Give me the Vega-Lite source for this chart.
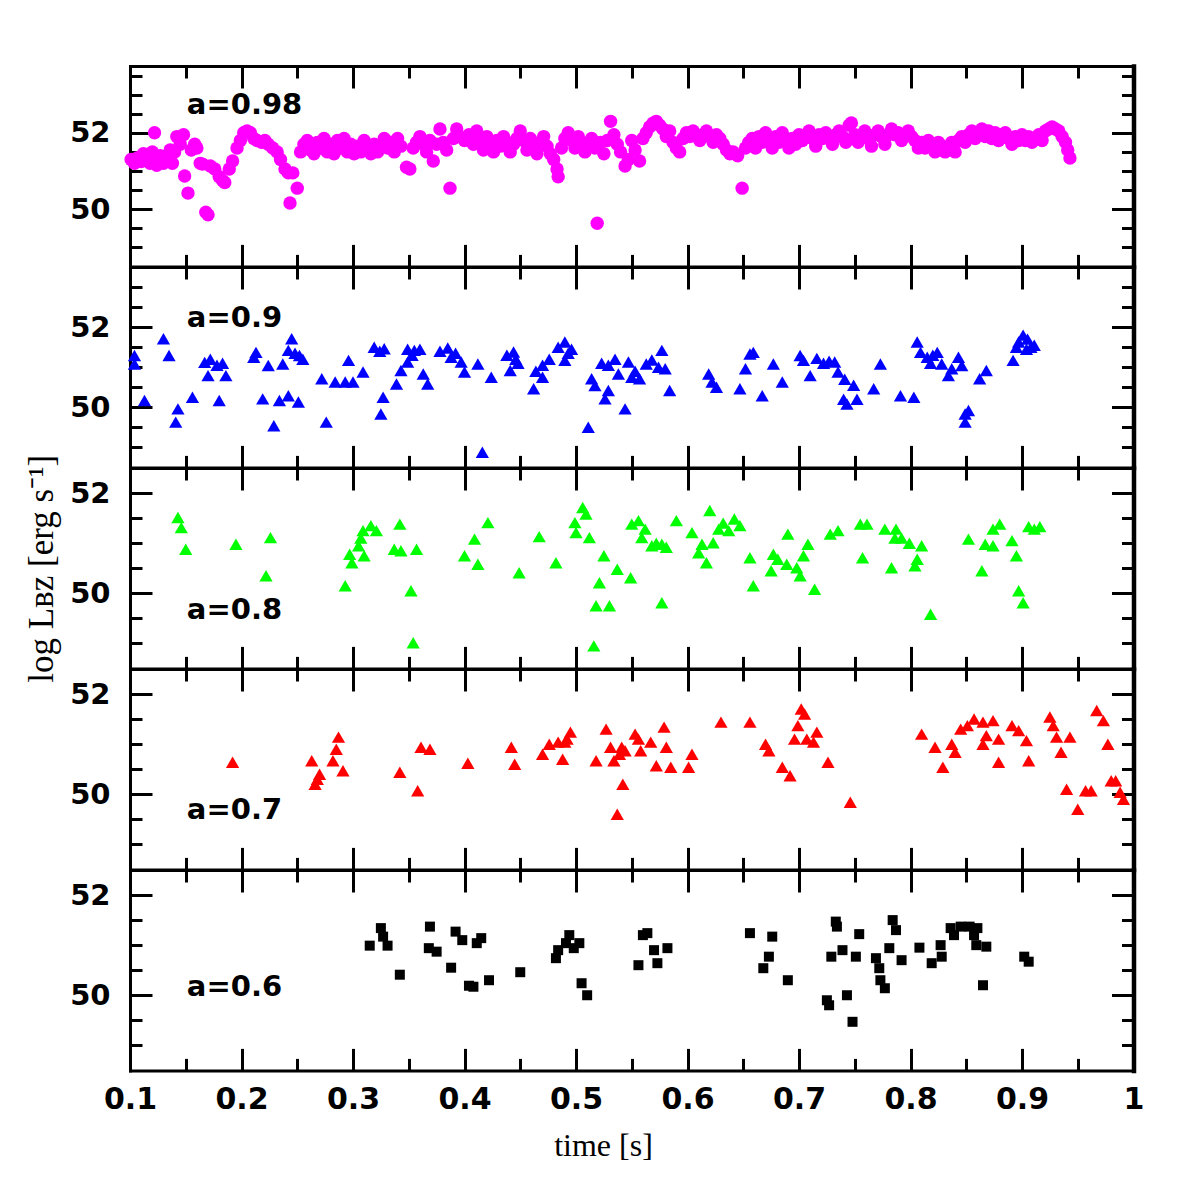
{
  "$schema": "https://vega.github.io/schema/vega-lite/v6.json",
  "autosize": {"type": "none"},
  "padding": {"left": 130, "top": 66, "right": 1066, "bottom": 1130},
  "background": "white",
  "spacing": 0,
  "bounds": "flush",
  "config": {
    "view": {"stroke": null},
    "axis": {
      "grid": false,
      "tickColor": "black",
      "domainColor": "black",
      "labelColor": "black",
      "titleColor": "black",
      "labelFont": "DejaVu Sans",
      "labelFontWeight": "bold",
      "labelFontSize": 29,
      "labelFlush": false,
      "labelOverlap": false,
      "tickWidth": 3,
      "domainWidth": 3,
      "domainCap": "square",
      "titleFont": "Liberation Serif",
      "titleFontWeight": "normal",
      "titleFontSize": 32
    },
    "text": {"font": "DejaVu Sans", "fontWeight": "bold", "fontSize": 29, "color": "black", "align": "left", "baseline": "middle"}
  },
  "datasets": {
    "spin098": [
      {"t":0.101,"v":51.3},{"t":0.104,"v":51.2},{"t":0.107,"v":51.35},{"t":0.110,"v":51.25},{"t":0.112,"v":51.45},{"t":0.115,"v":51.3},{"t":0.118,"v":51.2},{"t":0.120,"v":51.5},{"t":0.122,"v":52.0},{"t":0.124,"v":51.15},{"t":0.127,"v":51.4},{"t":0.130,"v":51.2},{"t":0.133,"v":51.35},{"t":0.136,"v":51.55},{"t":0.138,"v":51.2},{"t":0.140,"v":51.5},{"t":0.142,"v":51.9},{"t":0.145,"v":51.7},{"t":0.148,"v":51.95},{"t":0.149,"v":50.87},{"t":0.152,"v":50.42},{"t":0.155,"v":51.55},{"t":0.158,"v":51.7},{"t":0.160,"v":51.6},{"t":0.163,"v":51.2},{"t":0.165,"v":51.18},{"t":0.168,"v":49.92},{"t":0.170,"v":49.85},{"t":0.172,"v":51.13},{"t":0.176,"v":51.05},{"t":0.180,"v":50.85},{"t":0.183,"v":50.75},{"t":0.185,"v":50.7},{"t":0.189,"v":51.05},{"t":0.192,"v":51.26},{"t":0.196,"v":51.6},{"t":0.199,"v":51.8},{"t":0.202,"v":52.0},{"t":0.205,"v":52.05},{"t":0.208,"v":52.0},{"t":0.211,"v":51.85},{"t":0.214,"v":51.8},{"t":0.218,"v":51.75},{"t":0.221,"v":51.8},{"t":0.224,"v":51.7},{"t":0.228,"v":51.6},{"t":0.232,"v":51.5},{"t":0.235,"v":51.3},{"t":0.239,"v":51.05},{"t":0.242,"v":50.95},{"t":0.2435,"v":50.16},{"t":0.246,"v":50.95},{"t":0.250,"v":50.55},{"t":0.253,"v":51.5},{"t":0.256,"v":51.7},
      {"t":0.259,"v":51.8},{"t":0.262,"v":51.55},{"t":0.265,"v":51.45},{"t":0.268,"v":51.75},{"t":0.271,"v":51.6},{"t":0.274,"v":51.85},{"t":0.277,"v":51.5},{"t":0.280,"v":51.7},{"t":0.283,"v":51.45},{"t":0.286,"v":51.8},{"t":0.289,"v":51.6},{"t":0.292,"v":51.85},{"t":0.295,"v":51.5},{"t":0.298,"v":51.7},{"t":0.301,"v":51.45},{"t":0.304,"v":51.65},{"t":0.307,"v":51.5},{"t":0.310,"v":51.8},{"t":0.313,"v":51.6},{"t":0.316,"v":51.45},{"t":0.319,"v":51.7},{"t":0.322,"v":51.5},{"t":0.325,"v":51.65},{"t":0.328,"v":51.85},{"t":0.331,"v":51.6},{"t":0.334,"v":51.75},{"t":0.337,"v":51.5},{"t":0.340,"v":51.85},{"t":0.343,"v":51.65},{"t":0.348,"v":51.1},{"t":0.351,"v":51.05},{"t":0.354,"v":51.6},{"t":0.357,"v":51.75},{"t":0.360,"v":51.9},{"t":0.363,"v":51.7},{"t":0.366,"v":51.5},{"t":0.369,"v":51.8},{"t":0.372,"v":51.26},{"t":0.375,"v":51.7},{"t":0.378,"v":52.1},{"t":0.381,"v":51.75},{"t":0.384,"v":51.55},{"t":0.387,"v":50.55},{"t":0.390,"v":51.85},{"t":0.393,"v":52.1},{"t":0.396,"v":51.9},
      {"t":0.400,"v":51.8},{"t":0.404,"v":51.95},{"t":0.408,"v":51.7},{"t":0.411,"v":52.05},{"t":0.414,"v":51.8},{"t":0.417,"v":51.55},{"t":0.420,"v":51.9},{"t":0.423,"v":51.75},{"t":0.426,"v":51.5},{"t":0.429,"v":51.8},{"t":0.432,"v":51.65},{"t":0.435,"v":51.9},{"t":0.438,"v":51.75},{"t":0.441,"v":51.5},{"t":0.444,"v":51.7},{"t":0.447,"v":51.85},{"t":0.450,"v":52.05},{"t":0.453,"v":51.8},{"t":0.456,"v":51.55},{"t":0.459,"v":51.85},{"t":0.462,"v":51.7},{"t":0.465,"v":51.45},{"t":0.468,"v":51.75},{"t":0.471,"v":51.9},{"t":0.474,"v":51.65},{"t":0.477,"v":51.45},{"t":0.480,"v":51.3},{"t":0.483,"v":51.05},{"t":0.484,"v":50.85},{"t":0.487,"v":51.6},{"t":0.490,"v":51.85},{"t":0.493,"v":52.0},{"t":0.496,"v":51.8},{"t":0.499,"v":51.6},{"t":0.502,"v":51.9},{"t":0.505,"v":51.75},{"t":0.508,"v":51.5},{"t":0.511,"v":51.7},{"t":0.514,"v":51.85},{"t":0.517,"v":51.6},{"t":0.519,"v":49.63},{"t":0.522,"v":51.75},{"t":0.525,"v":51.45},{"t":0.528,"v":51.8},{"t":0.531,"v":52.3},{"t":0.534,"v":51.95},{"t":0.537,"v":51.7},{"t":0.540,"v":51.5},{"t":0.544,"v":51.13},{"t":0.547,"v":51.3},{"t":0.550,"v":51.8},{"t":0.553,"v":51.55},{"t":0.557,"v":51.26},
      {"t":0.560,"v":51.85},{"t":0.563,"v":52.0},{"t":0.566,"v":52.15},{"t":0.569,"v":52.25},{"t":0.572,"v":52.3},{"t":0.575,"v":52.2},{"t":0.578,"v":52.1},{"t":0.581,"v":51.9},{"t":0.584,"v":52.05},{"t":0.587,"v":51.75},{"t":0.590,"v":51.6},{"t":0.593,"v":51.5},{"t":0.596,"v":51.85},{"t":0.599,"v":52.0},{"t":0.602,"v":51.9},{"t":0.605,"v":52.05},{"t":0.608,"v":51.95},{"t":0.611,"v":51.8},{"t":0.614,"v":51.95},{"t":0.617,"v":52.05},{"t":0.620,"v":51.9},{"t":0.623,"v":51.75},{"t":0.626,"v":51.95},{"t":0.629,"v":51.85},{"t":0.632,"v":51.7},{"t":0.635,"v":51.55},{"t":0.638,"v":51.45},{"t":0.641,"v":51.5},{"t":0.645,"v":51.4},{"t":0.649,"v":50.55},{"t":0.652,"v":51.6},{"t":0.655,"v":51.75},{"t":0.658,"v":51.85},{"t":0.661,"v":51.6},{"t":0.664,"v":51.9},{"t":0.667,"v":51.75},{"t":0.670,"v":52.0},{"t":0.673,"v":51.8},{"t":0.676,"v":51.6},{"t":0.679,"v":51.9},{"t":0.682,"v":51.75},{"t":0.685,"v":52.0},{"t":0.688,"v":51.8},{"t":0.691,"v":51.6},{"t":0.694,"v":51.85},{"t":0.697,"v":51.7},{"t":0.700,"v":51.95},
      {"t":0.703,"v":51.8},{"t":0.706,"v":51.95},{"t":0.709,"v":52.05},{"t":0.712,"v":51.85},{"t":0.715,"v":51.65},{"t":0.718,"v":51.95},{"t":0.721,"v":51.85},{"t":0.724,"v":52.0},{"t":0.727,"v":51.9},{"t":0.730,"v":51.7},{"t":0.733,"v":51.95},{"t":0.736,"v":52.05},{"t":0.739,"v":51.9},{"t":0.742,"v":51.75},{"t":0.745,"v":52.2},{"t":0.747,"v":52.26},{"t":0.750,"v":51.95},{"t":0.753,"v":51.75},{"t":0.756,"v":51.95},{"t":0.759,"v":52.05},{"t":0.762,"v":51.85},{"t":0.765,"v":51.65},{"t":0.768,"v":51.95},{"t":0.771,"v":52.05},{"t":0.774,"v":51.9},{"t":0.777,"v":51.7},{"t":0.780,"v":51.95},{"t":0.783,"v":52.1},{"t":0.786,"v":51.95},{"t":0.789,"v":52.0},{"t":0.792,"v":51.8},{"t":0.795,"v":51.95},{"t":0.798,"v":52.05},{"t":0.801,"v":51.9},{"t":0.804,"v":51.8},{"t":0.807,"v":51.6},{"t":0.810,"v":51.75},{"t":0.813,"v":51.6},{"t":0.816,"v":51.8},{"t":0.819,"v":51.7},{"t":0.822,"v":51.5},{"t":0.825,"v":51.75},{"t":0.828,"v":51.65},{"t":0.831,"v":51.5},{"t":0.834,"v":51.6},{"t":0.837,"v":51.75},{"t":0.840,"v":51.5},{"t":0.843,"v":51.8},{"t":0.846,"v":51.9},{"t":0.849,"v":51.75},
      {"t":0.852,"v":51.95},{"t":0.855,"v":52.05},{"t":0.858,"v":51.85},{"t":0.861,"v":52.0},{"t":0.864,"v":52.1},{"t":0.867,"v":51.9},{"t":0.870,"v":52.05},{"t":0.873,"v":51.85},{"t":0.876,"v":52.0},{"t":0.879,"v":51.8},{"t":0.882,"v":51.95},{"t":0.885,"v":52.0},{"t":0.888,"v":51.85},{"t":0.891,"v":51.7},{"t":0.894,"v":51.9},{"t":0.897,"v":51.8},{"t":0.900,"v":51.95},{"t":0.903,"v":51.8},{"t":0.906,"v":51.9},{"t":0.909,"v":51.75},{"t":0.912,"v":51.85},{"t":0.915,"v":51.95},{"t":0.918,"v":51.8},{"t":0.921,"v":52.05},{"t":0.924,"v":52.1},{"t":0.927,"v":52.15},{"t":0.930,"v":52.1},{"t":0.933,"v":52.05},{"t":0.936,"v":51.9},{"t":0.939,"v":51.75},{"t":0.941,"v":51.55},{"t":0.943,"v":51.34}
    ],
    "spin09": [
      {"t":0.104,"v":51.29},{"t":0.104,"v":51.08},{"t":0.113,"v":50.17},{"t":0.130,"v":51.71},{"t":0.135,"v":51.29},{"t":0.143,"v":49.96},{"t":0.141,"v":49.63},{"t":0.156,"v":50.25},{"t":0.167,"v":51.12},{"t":0.172,"v":51.2},{"t":0.178,"v":51.05},{"t":0.183,"v":51.1},{"t":0.170,"v":50.79},{"t":0.186,"v":50.79},{"t":0.180,"v":50.17},{"t":0.213,"v":51.37},{"t":0.211,"v":51.25},{"t":0.219,"v":50.21},{"t":0.224,"v":51.04},{"t":0.229,"v":49.54},{"t":0.234,"v":50.17},{"t":0.242,"v":50.29},{"t":0.237,"v":51.08},{"t":0.245,"v":51.71},{"t":0.242,"v":51.42},{"t":0.252,"v":51.29},{"t":0.248,"v":51.35},{"t":0.255,"v":51.2},{"t":0.251,"v":50.13},{"t":0.272,"v":50.71},{"t":0.276,"v":49.63},{"t":0.284,"v":50.63},{"t":0.293,"v":50.63},{"t":0.300,"v":50.63},{"t":0.296,"v":51.17},{"t":0.309,"v":50.88},{"t":0.319,"v":51.5},{"t":0.328,"v":51.46},{"t":0.324,"v":51.4},{"t":0.327,"v":50.25},{"t":0.325,"v":49.83},{"t":0.339,"v":50.58},{"t":0.343,"v":50.92},{"t":0.349,"v":51.45},{"t":0.355,"v":51.42},{"t":0.360,"v":51.45},{"t":0.349,"v":51.13},{"t":0.353,"v":51.3},{"t":0.363,"v":50.83},{"t":0.367,"v":50.58},{"t":0.378,"v":51.4},{"t":0.385,"v":51.48},{"t":0.392,"v":51.35},{"t":0.388,"v":51.25},{"t":0.397,"v":51.13},{"t":0.400,"v":50.88},{"t":0.412,"v":51.08},{"t":0.416,"v":48.88},{"t":0.424,"v":50.75},{"t":0.438,"v":51.3},{"t":0.444,"v":51.38},{"t":0.448,"v":51.1},{"t":0.441,"v":50.92},{"t":0.446,"v":51.2},{"t":0.462,"v":50.46},{"t":0.464,"v":50.9},{"t":0.470,"v":51.05},{"t":0.476,"v":51.2},{"t":0.470,"v":50.75},{"t":0.484,"v":51.5},{"t":0.490,"v":51.63},{"t":0.496,"v":51.45},{"t":0.490,"v":51.17},{"t":0.493,"v":51.35},{"t":0.511,"v":49.5},{"t":0.514,"v":50.71},{"t":0.517,"v":50.54},{"t":0.523,"v":51.1},{"t":0.529,"v":51.05},{"t":0.535,"v":51.2},{"t":0.529,"v":50.42},{"t":0.526,"v":50.21},{"t":0.538,"v":50.83},{"t":0.544,"v":49.96},{"t":0.547,"v":51.13},{"t":0.550,"v":50.75},
      {"t":0.553,"v":50.9},{"t":0.557,"v":50.71},{"t":0.563,"v":51.08},{"t":0.568,"v":51.18},{"t":0.574,"v":51.0},{"t":0.577,"v":51.42},{"t":0.580,"v":50.96},{"t":0.584,"v":50.42},{"t":0.619,"v":50.83},{"t":0.622,"v":50.63},{"t":0.626,"v":50.5},{"t":0.647,"v":50.46},{"t":0.652,"v":50.96},{"t":0.656,"v":51.33},{"t":0.659,"v":51.37},{"t":0.667,"v":50.29},{"t":0.677,"v":51.08},{"t":0.685,"v":50.63},{"t":0.701,"v":51.29},{"t":0.704,"v":51.17},{"t":0.710,"v":50.79},{"t":0.716,"v":51.22},{"t":0.722,"v":51.1},{"t":0.727,"v":51.15},{"t":0.732,"v":51.13},{"t":0.735,"v":50.88},{"t":0.741,"v":50.7},{"t":0.749,"v":50.55},{"t":0.740,"v":50.2},{"t":0.743,"v":50.08},{"t":0.752,"v":50.2},{"t":0.767,"v":50.46},{"t":0.773,"v":51.08},{"t":0.791,"v":50.29},{"t":0.803,"v":50.25},{"t":0.806,"v":51.63},{"t":0.809,"v":51.37},{"t":0.815,"v":51.25},{"t":0.820,"v":51.3},{"t":0.824,"v":51.37},{"t":0.818,"v":51.1},{"t":0.828,"v":51.08},{"t":0.834,"v":50.79},{"t":0.837,"v":50.96},{"t":0.843,"v":51.25},{"t":0.846,"v":51.04},{"t":0.849,"v":49.83},{"t":0.852,"v":49.92},{"t":0.849,"v":49.63},{"t":0.862,"v":50.71},{"t":0.868,"v":50.92},{"t":0.892,"v":51.17},{"t":0.895,"v":51.5},{"t":0.897,"v":51.63},{"t":0.901,"v":51.8},{"t":0.905,"v":51.7},{"t":0.908,"v":51.5},{"t":0.904,"v":51.45},{"t":0.911,"v":51.55}
    ],
    "spin08": [
      {"t":0.143,"v":51.51},{"t":0.146,"v":51.31},{"t":0.150,"v":50.88},{"t":0.195,"v":50.98},{"t":0.226,"v":51.11},{"t":0.222,"v":50.35},{"t":0.293,"v":50.15},{"t":0.297,"v":50.78},{"t":0.299,"v":50.61},{"t":0.305,"v":50.95},{"t":0.307,"v":51.1},{"t":0.309,"v":51.25},{"t":0.310,"v":50.75},{"t":0.316,"v":51.35},{"t":0.321,"v":51.25},{"t":0.337,"v":50.88},{"t":0.343,"v":50.85},{"t":0.342,"v":51.38},{"t":0.352,"v":50.05},{"t":0.357,"v":50.88},{"t":0.354,"v":49.01},{"t":0.400,"v":50.75},{"t":0.409,"v":51.08},{"t":0.412,"v":50.58},{"t":0.421,"v":51.41},{"t":0.449,"v":50.41},{"t":0.467,"v":51.13},{"t":0.482,"v":50.61},{"t":0.499,"v":51.41},{"t":0.500,"v":51.21},{"t":0.506,"v":51.71},{"t":0.509,"v":51.58},{"t":0.512,"v":51.11},{"t":0.521,"v":50.21},{"t":0.525,"v":50.75},{"t":0.518,"v":49.75},{"t":0.530,"v":49.75},{"t":0.516,"v":48.95},{"t":0.537,"v":50.48},{"t":0.549,"v":50.31},{"t":0.550,"v":51.38},
      {"t":0.556,"v":51.45},{"t":0.562,"v":51.28},{"t":0.559,"v":51.11},{"t":0.568,"v":50.95},{"t":0.572,"v":51.0},{"t":0.577,"v":50.98},{"t":0.581,"v":50.92},{"t":0.577,"v":49.81},{"t":0.590,"v":51.45},{"t":0.604,"v":51.21},{"t":0.620,"v":51.65},{"t":0.613,"v":50.98},{"t":0.610,"v":50.81},{"t":0.617,"v":50.61},{"t":0.623,"v":51.01},{"t":0.628,"v":51.28},{"t":0.632,"v":51.4},{"t":0.637,"v":51.25},{"t":0.642,"v":51.48},{"t":0.647,"v":51.35},{"t":0.656,"v":50.71},{"t":0.659,"v":50.15},{"t":0.677,"v":50.78},{"t":0.681,"v":50.68},{"t":0.689,"v":50.58},{"t":0.675,"v":50.45},{"t":0.690,"v":51.18},{"t":0.698,"v":50.51},{"t":0.701,"v":50.35},{"t":0.704,"v":50.75},{"t":0.708,"v":50.98},{"t":0.714,"v":50.08},{"t":0.728,"v":51.18},{"t":0.735,"v":51.25},{"t":0.755,"v":51.38},{"t":0.761,"v":51.38},{"t":0.757,"v":50.71},{"t":0.777,"v":51.28},{"t":0.783,"v":50.51},{"t":0.787,"v":51.28},{"t":0.786,"v":51.1},{"t":0.792,"v":51.1},{"t":0.799,"v":51.0},{"t":0.810,"v":50.95},{"t":0.806,"v":50.68},{"t":0.804,"v":50.55},{"t":0.818,"v":49.58},{"t":0.852,"v":51.08},{"t":0.864,"v":50.45},{"t":0.867,"v":50.98},{"t":0.874,"v":50.95},{"t":0.874,"v":51.28},{"t":0.880,"v":51.38},{"t":0.891,"v":51.05},{"t":0.895,"v":50.75},{"t":0.897,"v":50.05},{"t":0.901,"v":49.81},{"t":0.906,"v":51.33},{"t":0.911,"v":51.28},{"t":0.916,"v":51.33}
    ],
    "spin07": [
      {"t":0.192,"v":50.64},{"t":0.263,"v":50.67},{"t":0.266,"v":50.2},{"t":0.268,"v":50.3},{"t":0.270,"v":50.4},{"t":0.282,"v":50.67},{"t":0.285,"v":50.9},{"t":0.287,"v":51.14},{"t":0.291,"v":50.47},{"t":0.342,"v":50.44},{"t":0.358,"v":50.07},{"t":0.361,"v":50.94},{"t":0.369,"v":50.9},{"t":0.403,"v":50.62},{"t":0.442,"v":50.94},{"t":0.445,"v":50.6},{"t":0.470,"v":50.8},{"t":0.476,"v":51.0},{"t":0.484,"v":51.04},{"t":0.490,"v":51.04},{"t":0.495,"v":51.24},{"t":0.492,"v":51.1},{"t":0.488,"v":50.7},{"t":0.518,"v":50.67},{"t":0.527,"v":51.3},{"t":0.531,"v":50.94},{"t":0.539,"v":50.8},{"t":0.544,"v":50.87},{"t":0.541,"v":50.94},{"t":0.534,"v":50.67},{"t":0.542,"v":50.2},{"t":0.537,"v":49.6},{"t":0.553,"v":51.2},{"t":0.556,"v":51.1},{"t":0.558,"v":50.87},{"t":0.567,"v":51.04},{"t":0.572,"v":50.57},{"t":0.579,"v":51.34},{"t":0.581,"v":50.94},{"t":0.585,"v":50.54},{"t":0.601,"v":50.54},{"t":0.604,"v":50.8},{"t":0.630,"v":51.44},{"t":0.656,"v":51.44},{"t":0.670,"v":51.0},{"t":0.673,"v":50.87},{"t":0.685,"v":50.54},{"t":0.692,"v":50.37},{"t":0.696,"v":51.1},{"t":0.699,"v":51.37},{"t":0.702,"v":51.7},{"t":0.705,"v":51.6},{"t":0.707,"v":51.1},{"t":0.713,"v":51.04},{"t":0.716,"v":51.24},{"t":0.726,"v":50.64},{"t":0.746,"v":49.84},{"t":0.810,"v":51.2},{"t":0.822,"v":50.94},{"t":0.829,"v":50.54},{"t":0.837,"v":51.0},{"t":0.840,"v":50.84},{"t":0.845,"v":51.3},{"t":0.851,"v":51.37},{"t":0.857,"v":51.5},{"t":0.865,"v":51.44},{"t":0.874,"v":51.47},{"t":0.865,"v":51.0},{"t":0.868,"v":51.17},{"t":0.879,"v":51.1},{"t":0.879,"v":50.64},{"t":0.891,"v":51.37},{"t":0.897,"v":51.27},{"t":0.904,"v":51.07},{"t":0.906,"v":50.67},{"t":0.925,"v":51.54},{"t":0.928,"v":51.37},{"t":0.931,"v":51.14},{"t":0.943,"v":51.14},{"t":0.935,"v":50.84},{"t":0.940,"v":50.1},{"t":0.950,"v":49.7},{"t":0.957,"v":50.07},{"t":0.962,"v":50.07},{"t":0.967,"v":51.67},{"t":0.973,"v":51.47},{"t":0.977,"v":51.0},{"t":0.980,"v":50.27},{"t":0.984,"v":50.27},{"t":0.988,"v":50.04},{"t":0.991,"v":49.9}
    ],
    "spin06": [
      {"t":0.315,"v":50.99},{"t":0.325,"v":51.34},{"t":0.327,"v":51.17},{"t":0.331,"v":50.99},{"t":0.342,"v":50.41},{"t":0.369,"v":51.37},{"t":0.368,"v":50.94},{"t":0.375,"v":50.87},{"t":0.388,"v":50.55},{"t":0.392,"v":51.27},{"t":0.398,"v":51.1},{"t":0.411,"v":51.04},{"t":0.415,"v":51.14},{"t":0.404,"v":50.19},{"t":0.408,"v":50.17},{"t":0.422,"v":50.3},{"t":0.450,"v":50.46},{"t":0.482,"v":50.74},{"t":0.484,"v":50.9},{"t":0.491,"v":51.04},{"t":0.494,"v":51.2},{"t":0.498,"v":50.94},{"t":0.503,"v":51.04},{"t":0.505,"v":50.24},{"t":0.510,"v":50.0},{"t":0.556,"v":50.6},{"t":0.560,"v":51.2},{"t":0.564,"v":51.24},{"t":0.570,"v":50.9},{"t":0.573,"v":50.64},{"t":0.582,"v":50.94},{"t":0.656,"v":51.24},{"t":0.676,"v":51.17},{"t":0.673,"v":50.77},{"t":0.668,"v":50.54},{"t":0.690,"v":50.3},{"t":0.725,"v":49.9},{"t":0.727,"v":49.8},{"t":0.733,"v":51.47},{"t":0.734,"v":51.37},{"t":0.739,"v":50.9},{"t":0.743,"v":50.0},{"t":0.729,"v":50.77},{"t":0.748,"v":49.47},{"t":0.754,"v":51.22},{"t":0.751,"v":50.77},{"t":0.769,"v":50.74},{"t":0.772,"v":50.54},{"t":0.773,"v":50.3},{"t":0.777,"v":50.14},{"t":0.781,"v":50.94},{"t":0.784,"v":51.5},{"t":0.787,"v":51.3},{"t":0.792,"v":50.7},{"t":0.808,"v":50.95},{"t":0.819,"v":50.64},{"t":0.828,"v":50.77},{"t":0.827,"v":51.0},{"t":0.836,"v":51.34},{"t":0.845,"v":51.37},{"t":0.853,"v":51.37},{"t":0.860,"v":51.34},{"t":0.839,"v":51.2},{"t":0.857,"v":51.2},{"t":0.859,"v":51.0},{"t":0.868,"v":50.97},{"t":0.865,"v":50.2},{"t":0.902,"v":50.77},{"t":0.906,"v":50.67}
    ]
  },
  "vconcat": [
    {
      "width": 1003.5, "height": 200.4,
      "layer": [
        {
          "data": {"name": "spin098"},
          "mark": {"type": "point", "shape": "circle", "filled": true, "size": 180, "color": "#ff00ff", "opacity": 1, "strokeWidth": 0},
          "encoding": {
            "x": {"field": "t", "type": "quantitative", "scale": {"domain": [0.1, 1], "nice": false, "zero": false},
              "axis": {"orient": "bottom", "values": [0.1,0.15,0.2,0.25,0.3,0.35,0.4,0.45,0.5,0.55,0.6,0.65,0.7,0.75,0.8,0.85,0.9,0.95,1.0], "labels": false, "title": null,
                "tickSize": {"condition": {"test": "abs(datum.value*10-round(datum.value*10))<0.001", "value": -22}, "value": -12}}},
            "y": {"field": "v", "type": "quantitative", "scale": {"domain": [48.5, 53.75], "nice": false, "zero": false},
              "axis": {"orient": "left", "values": [49,49.5,50,50.5,51,51.5,52,52.5,53,53.5], "title": null, "labelPadding": 42, "format": "~g",
                "labelExpr": "datum.value==50||datum.value==52 ? datum.label : ''",
                "tickSize": {"condition": {"test": "abs(datum.value/2-round(datum.value/2))<0.001", "value": -22}, "value": -12}}}
          }
        },
        {
          "data": {"values": [{"t": 0.151, "v": 52.74, "label": "a=0.98"}]},
          "mark": {"type": "text"},
          "encoding": {
            "x": {"field": "t", "type": "quantitative", "scale": {"domain": [0.1, 1], "nice": false, "zero": false},
              "axis": {"orient": "top", "values": [0.1,0.15,0.2,0.25,0.3,0.35,0.4,0.45,0.5,0.55,0.6,0.65,0.7,0.75,0.8,0.85,0.9,0.95,1.0], "labels": false, "title": null,
                "tickSize": {"condition": {"test": "abs(datum.value*10-round(datum.value*10))<0.001", "value": -22}, "value": -12}}},
            "y": {"field": "v", "type": "quantitative", "scale": {"domain": [48.5, 53.75], "nice": false, "zero": false},
              "axis": {"orient": "right", "values": [49,49.5,50,50.5,51,51.5,52,52.5,53,53.5], "labels": false, "title": null, "domainWidth": 4.5,
                "tickSize": {"condition": {"test": "abs(datum.value/2-round(datum.value/2))<0.001", "value": -22}, "value": -12}}},
            "text": {"field": "label"}
          }
        }
      ],
      "resolve": {"axis": {"x": "independent", "y": "independent"}}
    },
    {
      "width": 1003.5, "height": 200.4,
      "layer": [
        {
          "data": {"name": "spin09"},
          "mark": {"type": "point", "shape": "triangle-up", "filled": true, "size": 175, "color": "#0000ff", "opacity": 1, "strokeWidth": 0},
          "encoding": {
            "x": {"field": "t", "type": "quantitative", "scale": {"domain": [0.1, 1], "nice": false, "zero": false},
              "axis": {"orient": "bottom", "values": [0.1,0.15,0.2,0.25,0.3,0.35,0.4,0.45,0.5,0.55,0.6,0.65,0.7,0.75,0.8,0.85,0.9,0.95,1.0], "labels": false, "title": null,
                "tickSize": {"condition": {"test": "abs(datum.value*10-round(datum.value*10))<0.001", "value": -22}, "value": -12}}},
            "y": {"field": "v", "type": "quantitative", "scale": {"domain": [48.5, 53.5], "nice": false, "zero": false},
              "axis": {"orient": "left", "values": [49,49.5,50,50.5,51,51.5,52,52.5,53], "title": null, "labelPadding": 42, "format": "~g",
                "labelExpr": "datum.value==50||datum.value==52 ? datum.label : ''",
                "tickSize": {"condition": {"test": "abs(datum.value/2-round(datum.value/2))<0.001", "value": -22}, "value": -12}}}
          }
        },
        {
          "data": {"values": [{"t": 0.151, "v": 52.22, "label": "a=0.9"}]},
          "mark": {"type": "text"},
          "encoding": {
            "x": {"field": "t", "type": "quantitative", "scale": {"domain": [0.1, 1], "nice": false, "zero": false},
              "axis": {"orient": "top", "values": [0.1,0.15,0.2,0.25,0.3,0.35,0.4,0.45,0.5,0.55,0.6,0.65,0.7,0.75,0.8,0.85,0.9,0.95,1.0], "labels": false, "title": null,
                "tickSize": {"condition": {"test": "abs(datum.value*10-round(datum.value*10))<0.001", "value": -22}, "value": -12}}},
            "y": {"field": "v", "type": "quantitative", "scale": {"domain": [48.5, 53.5], "nice": false, "zero": false},
              "axis": {"orient": "right", "values": [49,49.5,50,50.5,51,51.5,52,52.5,53], "labels": false, "title": null, "domainWidth": 4.5,
                "tickSize": {"condition": {"test": "abs(datum.value/2-round(datum.value/2))<0.001", "value": -22}, "value": -12}}},
            "text": {"field": "label"}
          }
        }
      ],
      "resolve": {"axis": {"x": "independent", "y": "independent"}}
    },
    {
      "width": 1003.5, "height": 200.4,
      "layer": [
        {
          "data": {"name": "spin08"},
          "mark": {"type": "point", "shape": "triangle-up", "filled": true, "size": 175, "color": "#00ff00", "opacity": 1, "strokeWidth": 0},
          "encoding": {
            "x": {"field": "t", "type": "quantitative", "scale": {"domain": [0.1, 1], "nice": false, "zero": false},
              "axis": {"orient": "bottom", "values": [0.1,0.15,0.2,0.25,0.3,0.35,0.4,0.45,0.5,0.55,0.6,0.65,0.7,0.75,0.8,0.85,0.9,0.95,1.0], "labels": false, "title": null,
                "tickSize": {"condition": {"test": "abs(datum.value*10-round(datum.value*10))<0.001", "value": -22}, "value": -12}}},
            "y": {"field": "v", "type": "quantitative", "scale": {"domain": [48.5, 52.5], "nice": false, "zero": false},
              "axis": {"orient": "left", "values": [49,49.5,50,50.5,51,51.5,52], "title": "log Lʙᴢ [erg s⁻¹]", "titleFontSize": 35, "titlePadding": 10, "labelPadding": 42, "format": "~g",
                "labelExpr": "datum.value==50||datum.value==52 ? datum.label : ''",
                "tickSize": {"condition": {"test": "abs(datum.value/2-round(datum.value/2))<0.001", "value": -22}, "value": -12}}}
          }
        },
        {
          "data": {"values": [{"t": 0.151, "v": 49.66, "label": "a=0.8"}]},
          "mark": {"type": "text"},
          "encoding": {
            "x": {"field": "t", "type": "quantitative", "scale": {"domain": [0.1, 1], "nice": false, "zero": false},
              "axis": {"orient": "top", "values": [0.1,0.15,0.2,0.25,0.3,0.35,0.4,0.45,0.5,0.55,0.6,0.65,0.7,0.75,0.8,0.85,0.9,0.95,1.0], "labels": false, "title": null,
                "tickSize": {"condition": {"test": "abs(datum.value*10-round(datum.value*10))<0.001", "value": -22}, "value": -12}}},
            "y": {"field": "v", "type": "quantitative", "scale": {"domain": [48.5, 52.5], "nice": false, "zero": false},
              "axis": {"orient": "right", "values": [49,49.5,50,50.5,51,51.5,52], "labels": false, "title": null, "domainWidth": 4.5,
                "tickSize": {"condition": {"test": "abs(datum.value/2-round(datum.value/2))<0.001", "value": -22}, "value": -12}}},
            "text": {"field": "label"}
          }
        }
      ],
      "resolve": {"axis": {"x": "independent", "y": "independent"}}
    },
    {
      "width": 1003.5, "height": 200.4,
      "layer": [
        {
          "data": {"name": "spin07"},
          "mark": {"type": "point", "shape": "triangle-up", "filled": true, "size": 175, "color": "#ff0000", "opacity": 1, "strokeWidth": 0},
          "encoding": {
            "x": {"field": "t", "type": "quantitative", "scale": {"domain": [0.1, 1], "nice": false, "zero": false},
              "axis": {"orient": "bottom", "values": [0.1,0.15,0.2,0.25,0.3,0.35,0.4,0.45,0.5,0.55,0.6,0.65,0.7,0.75,0.8,0.85,0.9,0.95,1.0], "labels": false, "title": null,
                "tickSize": {"condition": {"test": "abs(datum.value*10-round(datum.value*10))<0.001", "value": -22}, "value": -12}}},
            "y": {"field": "v", "type": "quantitative", "scale": {"domain": [48.5, 52.5], "nice": false, "zero": false},
              "axis": {"orient": "left", "values": [49,49.5,50,50.5,51,51.5,52], "title": null, "labelPadding": 42, "format": "~g",
                "labelExpr": "datum.value==50||datum.value==52 ? datum.label : ''",
                "tickSize": {"condition": {"test": "abs(datum.value/2-round(datum.value/2))<0.001", "value": -22}, "value": -12}}}
          }
        },
        {
          "data": {"values": [{"t": 0.151, "v": 49.69, "label": "a=0.7"}]},
          "mark": {"type": "text"},
          "encoding": {
            "x": {"field": "t", "type": "quantitative", "scale": {"domain": [0.1, 1], "nice": false, "zero": false},
              "axis": {"orient": "top", "values": [0.1,0.15,0.2,0.25,0.3,0.35,0.4,0.45,0.5,0.55,0.6,0.65,0.7,0.75,0.8,0.85,0.9,0.95,1.0], "labels": false, "title": null,
                "tickSize": {"condition": {"test": "abs(datum.value*10-round(datum.value*10))<0.001", "value": -22}, "value": -12}}},
            "y": {"field": "v", "type": "quantitative", "scale": {"domain": [48.5, 52.5], "nice": false, "zero": false},
              "axis": {"orient": "right", "values": [49,49.5,50,50.5,51,51.5,52], "labels": false, "title": null, "domainWidth": 4.5,
                "tickSize": {"condition": {"test": "abs(datum.value/2-round(datum.value/2))<0.001", "value": -22}, "value": -12}}},
            "text": {"field": "label"}
          }
        }
      ],
      "resolve": {"axis": {"x": "independent", "y": "independent"}}
    },
    {
      "width": 1003.5, "height": 200.4,
      "layer": [
        {
          "data": {"name": "spin06"},
          "mark": {"type": "point", "shape": "square", "filled": true, "size": 100, "color": "#000000", "opacity": 1, "strokeWidth": 0},
          "encoding": {
            "x": {"field": "t", "type": "quantitative", "scale": {"domain": [0.1, 1], "nice": false, "zero": false},
              "axis": {"orient": "bottom", "values": [0.1,0.15,0.2,0.25,0.3,0.35,0.4,0.45,0.5,0.55,0.6,0.65,0.7,0.75,0.8,0.85,0.9,0.95,1.0],
                "format": "~g", "labelExpr": "abs(datum.value*10-round(datum.value*10))<0.001 ? datum.label : ''",
                "labelFontSize": 30, "labelPadding": 36, "labelBaseline": "top",
                "title": "time [s]", "titlePadding": 6, "titleX": 473,
                "tickSize": {"condition": {"test": "abs(datum.value*10-round(datum.value*10))<0.001", "value": -22}, "value": -12}}},
            "y": {"field": "v", "type": "quantitative", "scale": {"domain": [48.5, 52.5], "nice": false, "zero": false},
              "axis": {"orient": "left", "values": [49,49.5,50,50.5,51,51.5,52], "title": null, "labelPadding": 42, "format": "~g",
                "labelExpr": "datum.value==50||datum.value==52 ? datum.label : ''",
                "tickSize": {"condition": {"test": "abs(datum.value/2-round(datum.value/2))<0.001", "value": -22}, "value": -12}}}
          }
        },
        {
          "data": {"values": [{"t": 0.151, "v": 50.17, "label": "a=0.6"}]},
          "mark": {"type": "text"},
          "encoding": {
            "x": {"field": "t", "type": "quantitative", "scale": {"domain": [0.1, 1], "nice": false, "zero": false},
              "axis": {"orient": "top", "values": [0.1,0.15,0.2,0.25,0.3,0.35,0.4,0.45,0.5,0.55,0.6,0.65,0.7,0.75,0.8,0.85,0.9,0.95,1.0], "labels": false, "title": null,
                "tickSize": {"condition": {"test": "abs(datum.value*10-round(datum.value*10))<0.001", "value": -22}, "value": -12}}},
            "y": {"field": "v", "type": "quantitative", "scale": {"domain": [48.5, 52.5], "nice": false, "zero": false},
              "axis": {"orient": "right", "values": [49,49.5,50,50.5,51,51.5,52], "labels": false, "title": null, "domainWidth": 4.5,
                "tickSize": {"condition": {"test": "abs(datum.value/2-round(datum.value/2))<0.001", "value": -22}, "value": -12}}},
            "text": {"field": "label"}
          }
        }
      ],
      "resolve": {"axis": {"x": "independent", "y": "independent"}}
    }
  ]
}
